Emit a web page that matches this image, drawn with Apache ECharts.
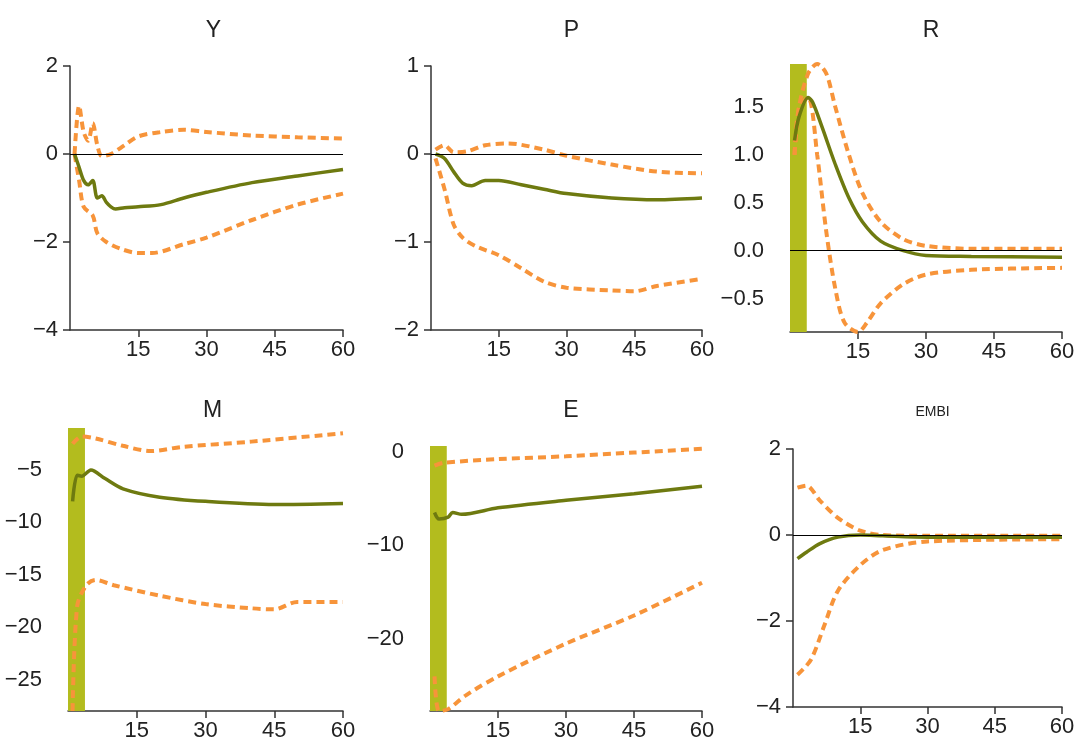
<!DOCTYPE html>
<html><head><meta charset="utf-8">
<script src="https://cdn.jsdelivr.net/npm/echarts@6/dist/echarts.min.js"></script>
<style>html,body{margin:0;background:#fff}#c{width:1084px;height:747px}</style>
</head><body><div id="c"></div>
<script>
// x positions and values for each panel (center, upper band, lower band)
var yX = [1,2,3,4,5,6,7,8,9,10,12,15,20,25,30,40,50,60];
var yMid = [0,-0.3,-0.6,-0.7,-0.6,-1.0,-0.95,-1.1,-1.2,-1.25,-1.22,-1.2,-1.15,-1.0,-0.87,-0.65,-0.5,-0.35];
var yUpX = [1,2,3,4,5,6,7,9,12,15,20,25,30,40,50,60];
var yUp = [0,1.1,0.5,0.3,0.7,0.2,-0.05,0,0.2,0.4,0.5,0.55,0.5,0.42,0.38,0.35];
var yLoX = [1,2,3,5,6,8,11,15,18,25,30,40,50,60];
var yLo = [0,-0.6,-1.2,-1.4,-1.8,-2.0,-2.15,-2.25,-2.25,-2.05,-1.9,-1.5,-1.15,-0.9];

var pX = [1,3,5,7,9,12,15,20,25,30,40,50,60];
var pMid = [0,-0.05,-0.2,-0.33,-0.36,-0.3,-0.3,-0.35,-0.4,-0.45,-0.5,-0.52,-0.5];
var pUpX = [1,3,5,8,12,17,25,30,40,50,60];
var pUp = [0.05,0.1,0.02,0.03,0.1,0.12,0.05,-0.02,-0.12,-0.2,-0.22];
var pLoX = [1,3,5,7,10,15,20,25,30,40,45,50,60];
var pLo = [-0.05,-0.4,-0.8,-0.95,-1.05,-1.15,-1.3,-1.45,-1.52,-1.55,-1.56,-1.5,-1.42];

var rX = [1,2,4,5,7,10,13,16,20,25,30,40,60];
var rMid = [1.15,1.4,1.6,1.55,1.3,0.9,0.55,0.3,0.1,0,-0.05,-0.06,-0.07];
var rUpX = [1,2,4,6,8,10,13,16,20,25,30,40,60];
var rUp = [1.0,1.5,1.85,1.95,1.85,1.5,1.0,0.6,0.3,0.12,0.05,0.02,0.02];
var rLoX = [1,2,4,6,8,10,12,15,17,20,25,30,40,60];
var rLo = [1.0,1.5,1.6,1.0,0.2,-0.4,-0.75,-0.85,-0.75,-0.55,-0.35,-0.25,-0.2,-0.18];

var mX = [1,2,3,5,8,12,20,30,45,60];
var mMid = [-8,-5.5,-5.6,-5,-5.8,-6.8,-7.6,-8.0,-8.3,-8.2];
var mUpX = [1,3,6,12,18,25,40,60];
var mUp = [-2.5,-1.8,-2.0,-2.7,-3.2,-2.8,-2.3,-1.5];
var mLoX = [1,2,4,6,10,20,30,40,45,50,60];
var mLo = [-28,-18,-16,-15.5,-16,-17,-17.8,-18.2,-18.3,-17.6,-17.6];

var eX = [1,2,4,5,7,15,30,45,60];
var eMid = [-6.5,-7.2,-7,-6.5,-6.7,-6,-5.2,-4.5,-3.7];
var eUpX = [1,3,15,30,45,60];
var eUp = [-1.5,-1.2,-0.8,-0.5,-0.1,0.3];
var eLoX = [1,2,4,8,15,30,45,60];
var eLo = [-24,-27.7,-27.5,-26,-24,-20.5,-17.5,-14];

var bX = [1,3,6,10,15,20,30,60];
var bMid = [-0.55,-0.4,-0.2,-0.05,0,-0.02,-0.05,-0.05];
var bUpX = [1,3,6,10,15,20,30,60];
var bUp = [1.1,1.15,0.8,0.4,0.1,0,-0.02,-0.02];
var bLoX = [1,4,7,10,15,20,30,60];
var bLo = [-3.25,-2.9,-2.1,-1.3,-0.7,-0.35,-0.15,-0.1];

function pairs(xs, ys) { return xs.map(function (x, i) { return [x, ys[i]]; }); }

var panels = [
  {title:'Y', box:[70,66,343,330], ymin:-4, ymax:2, step:2, nice:true, mid:pairs(yX,yMid), up:pairs(yUpX,yUp), lo:pairs(yLoX,yLo), zero:true},
  {title:'P', box:[431,66,702,330], ymin:-2, ymax:1, step:1, nice:true, mid:pairs(pX,pMid), up:pairs(pUpX,pUp), lo:pairs(pLoX,pLo), zero:true},
  {title:'R', box:[790,64,1062,332], ymin:-0.85, ymax:1.95, step:0.5, mid:pairs(rX,rMid), up:pairs(rUpX,rUp), lo:pairs(rLoX,rLo), zero:true, bar:true, fmt:1},
  {title:'M', box:[68,428,343,711], ymin:-28, ymax:-1, step:5, mid:pairs(mX,mMid), up:pairs(mUpX,mUp), lo:pairs(mLoX,mLo), bar:true},
  {title:'E', box:[430,446,702,711], ymin:-27.7, ymax:0.6, step:10, mid:pairs(eX,eMid), up:pairs(eUpX,eUp), lo:pairs(eLoX,eLo), bar:true},
  {title:'EMBI', box:[793,449,1062,707], ymin:-4, ymax:2, step:2, nice:true, mid:pairs(bX,bMid), up:pairs(bUpX,bUp), lo:pairs(bLoX,bLo), zero:true, small:true}
];

var font = 'Liberation Sans';
var option = { animation:false, title:[], grid:[], xAxis:[], yAxis:[], series:[] };

panels.forEach(function (p, i) {
  var b = p.box;
  option.grid.push({left:b[0], top:b[1], width:b[2]-b[0], height:b[3]-b[1]});
  option.title.push({text:p.title, left:(b[0]+b[2])/2 + (i%3==0?2:0), top:(i<3?14:(p.small?400:394)), textAlign:'center',
    textStyle:{fontFamily:font, fontWeight:'normal', fontSize:p.small?14:23, color:'#222'}});
  option.xAxis.push({type:'value', gridIndex:i, min:0, max:60, interval:15,
    axisLine:{onZero:false, lineStyle:{color:'#333', width:1.5}}, axisTick:{length:7, lineStyle:{color:'#333', width:1.5}},
    splitLine:{show:false}, axisLabel:{showMinLabel:false, fontFamily:font, fontSize:22, color:'#222', margin:9}});
  var ya = {type:'value', gridIndex:i, min:p.ymin, max:p.ymax,
    axisLine:{show:!p.bar, lineStyle:{color:'#333', width:1.5}},
    axisTick:{show:!p.bar, length:7, lineStyle:{color:'#333', width:1.5}},
    splitLine:{show:false},
    axisLabel:{fontFamily:font, fontSize:22, color:'#222', margin:p.bar?26:12, showMinLabel:true, showMaxLabel:true,
      formatter:function (v) {
        var k = v / p.step;
        if (Math.abs(k - Math.round(k)) > 1e-6) return '';
        return p.fmt ? v.toFixed(1).replace('-', '\u2212') : String(v).replace('-', '\u2212');
      }}};
  if (p.nice) ya.interval = p.step;
  option.yAxis.push(ya);
  var common = {type:'line', xAxisIndex:i, yAxisIndex:i, smooth:0.3, symbol:'none'};
  option.series.push(Object.assign({}, common, {data:p.up, z:3,
    lineStyle:{color:'#f7943a', width:4, type:[8,5]}}));
  option.series.push(Object.assign({}, common, {data:p.lo, z:3,
    lineStyle:{color:'#f7943a', width:4, type:[8,5]}}));
  var mid = Object.assign({}, common, {data:p.mid, z:4, lineStyle:{color:'#6e7a10', width:3.5}});
  if (p.zero) mid.markLine = {silent:true, symbol:'none', label:{show:false}, lineStyle:{color:'#000', width:1, type:'solid'}, data:[{yAxis:0}]};
  if (p.bar) mid.markArea = {silent:true, itemStyle:{color:'#b3bc1e'}, data:[[{xAxis:0},{xAxis:3.7}]]};
  option.series.push(mid);
});

var chart = echarts.init(document.getElementById('c'));
chart.setOption(option);
</script>
</body></html>
